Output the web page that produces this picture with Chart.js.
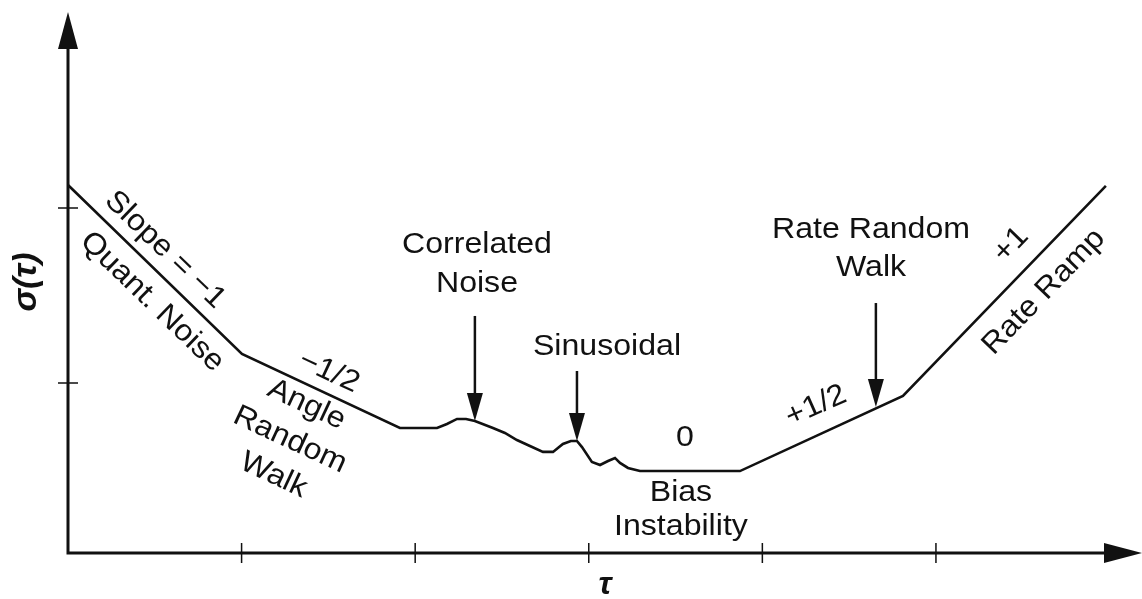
<!DOCTYPE html>
<html>
<head>
<meta charset="utf-8">
<script src="https://cdn.jsdelivr.net/npm/chart.js@4.4.0/dist/chart.umd.min.js"></script>
<style>
  html, body { margin: 0; padding: 0; background: #fff; }
  #wrap { width: 1142px; height: 599px; }
</style>
</head>
<body>
<div id="wrap"><canvas id="allanChart" width="1142" height="599"></canvas></div>
<script>
// Allan deviation sketch - values in axis units (1 unit = one tick step)
const tau = [0, 1.002, 1.912, 2.126, 2.183, 2.241, 2.293, 2.344, 2.448, 2.517, 2.586, 2.661, 2.736, 2.794,
             2.851, 2.897, 2.932, 2.961, 3.018, 3.065, 3.111, 3.151, 3.180, 3.226, 3.295, 3.871, 4.810, 5.979];
const sigma = [2.133, 1.154, 0.725, 0.725, 0.748, 0.777, 0.777, 0.765, 0.725, 0.696, 0.655, 0.620, 0.586, 0.586,
               0.632, 0.649, 0.649, 0.614, 0.528, 0.510, 0.533, 0.551, 0.522, 0.493, 0.475, 0.475, 0.910, 2.128];

const xTicks = [1, 2, 3, 4, 5];
const yTicks = [0.985, 2];

// pointer arrows: x, start of shaft, tip on the curve
const arrowX   = [2.344, 2.932, 4.654];
const arrowTop = [1.374, 1.055, 1.449];
const arrowTip = [0.765, 0.649, 0.846];

// annotation text
const labelText = [
    ['Slope = \u22121'],
    ['Quant. Noise'],
    ['\u22121/2'],
    ['Angle', 'Random', 'Walk'],
    ['Correlated', 'Noise'],
    ['Sinusoidal'],
    ['0'],
    ['Bias', 'Instability'],
    ['Rate Random', 'Walk'],
    ['+1/2'],
    ['+1'],
    ['Rate Ramp']
];
const labelX   = [0.559, 0.484, 1.503, 1.279, 2.356, 3.105, 3.554, 3.531, 4.626, 4.309, 5.432, 5.622];
const labelY   = [1.757, 1.455, 1.049, 0.655, 1.675, 1.194, 0.667, 0.249, 1.762, 0.852, 1.786, 1.513];
const labelRot = [44, 44, 25, 25, 0, 0, 0, 0, 0, -24, -46, -46];
const labelGap = [0, 0, 0, 39, 39, 0, 0, 34, 38, 0, 0, 0];

const ink = '#111';
const textFont = '30px "Liberation Sans", Arial, sans-serif';

function arrowHead(ctx, x, y, dx, dy, len, half) {
    // triangle pointing along (dx, dy) with tip at (x, y)
    const bx = x - dx * len, by = y - dy * len;
    ctx.beginPath();
    ctx.moveTo(x, y);
    ctx.lineTo(bx - dy * half, by + dx * half);
    ctx.lineTo(bx + dy * half, by - dx * half);
    ctx.closePath();
    ctx.fill();
}

const sketchPlugin = {
    id: 'sketch',
    afterDraw(chart) {
        const ctx = chart.ctx;
        const xs = chart.scales.x, ys = chart.scales.y;
        const area = chart.chartArea;
        const x0 = xs.getPixelForValue(0), y0 = ys.getPixelForValue(0);
        ctx.save();
        ctx.strokeStyle = ink;
        ctx.fillStyle = ink;
        ctx.lineCap = 'butt';

        // axes with arrow heads
        ctx.lineWidth = 3;
        ctx.beginPath();
        ctx.moveTo(x0, area.top + 30);
        ctx.lineTo(x0, y0);
        ctx.lineTo(area.right - 30, y0);
        ctx.stroke();
        arrowHead(ctx, x0, area.top, 0, -1, 37, 10);
        arrowHead(ctx, area.right, y0, 1, 0, 38, 10);

        // tick marks crossing the axes
        ctx.lineWidth = 1.5;
        ctx.beginPath();
        xTicks.forEach(v => {
            const px = xs.getPixelForValue(v);
            ctx.moveTo(px, y0 - 10);
            ctx.lineTo(px, y0 + 10);
        });
        yTicks.forEach(v => {
            const py = ys.getPixelForValue(v);
            ctx.moveTo(x0 - 10, py);
            ctx.lineTo(x0 + 10, py);
        });
        ctx.stroke();

        // pointer arrows
        ctx.lineWidth = 2.5;
        arrowX.forEach((v, i) => {
            const px = xs.getPixelForValue(v);
            const top = ys.getPixelForValue(arrowTop[i]);
            const tip = ys.getPixelForValue(arrowTip[i]);
            ctx.beginPath();
            ctx.moveTo(px, top);
            ctx.lineTo(px, tip - 20);
            ctx.stroke();
            arrowHead(ctx, px, tip, 0, 1, 28, 8);
        });

        // annotation text
        ctx.font = textFont;
        ctx.textAlign = 'center';
        ctx.textBaseline = 'middle';
        labelText.forEach((lines, i) => {
            ctx.save();
            ctx.translate(xs.getPixelForValue(labelX[i]), ys.getPixelForValue(labelY[i]));
            ctx.rotate(labelRot[i] * Math.PI / 180);
            ctx.scale(1.07, 1);
            const n = lines.length;
            lines.forEach((t, k) => {
                ctx.fillText(t, 0, (k - (n - 1) / 2) * labelGap[i]);
            });
            ctx.restore();
        });

        // axis titles
        ctx.font = 'italic bold 32px "Liberation Sans", Arial, sans-serif';
        ctx.fillText('\u03c4', 605, 585);
        ctx.font = 'italic bold 34px "Liberation Sans", Arial, sans-serif';
        ctx.save();
        ctx.translate(27, 282);
        ctx.rotate(-Math.PI / 2);
        ctx.fillText('\u03c3(\u03c4)', 0, 0);
        ctx.restore();

        ctx.restore();
    }
};

const ctx = document.getElementById('allanChart').getContext('2d');
new Chart(ctx, {
    type: 'scatter',
    data: {
        datasets: [{
            data: tau.map((t, i) => ({ x: t, y: sigma[i] })),
            showLine: true,
            borderColor: ink,
            borderWidth: 2.6,
            pointRadius: 0,
            tension: 0,
            clip: false
        }]
    },
    options: {
        responsive: false,
        animation: false,
        layout: { padding: { left: 68, top: 12, right: 0, bottom: 46 } },
        plugins: {
            legend: { display: false },
            tooltip: { enabled: false }
        },
        scales: {
            x: { type: 'linear', min: 0, max: 6.187, display: false },
            y: { type: 'linear', min: 0, max: 3.136, display: false }
        }
    },
    plugins: [sketchPlugin]
});
</script>
</body>
</html>
